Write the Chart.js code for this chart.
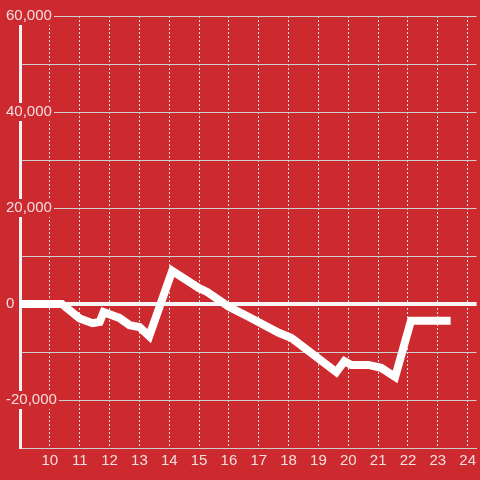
<!DOCTYPE html>
<html>
<head>
<meta charset="utf-8">
<script src="https://cdn.jsdelivr.net/npm/chart.js@4/dist/chart.umd.min.js"></script>
<style>
  html, body { margin: 0; padding: 0; background: #cd2a2f; }
  #wrap { width: 480px; height: 480px; }
</style>
</head>
<body>
<div id="wrap"><canvas id="chart" width="480" height="480"></canvas></div>
<script>
const BG = '#cd2a2f';

// hour of day vs value
const xValues = [8.9, 10.4, 11.0, 11.43, 11.67, 11.8, 12.33, 12.67, 13.0, 13.33, 14.1, 15.0, 15.27, 16.0, 16.67, 17.67, 18.1, 19.6, 19.87, 20.1, 20.67, 21.1, 21.57, 22.1, 23.43];
const yValues = [0, 0, -3000, -4000, -3750, -1700, -2900, -4400, -4800, -6700, 6900, 3300, 2500, -600, -2700, -6000, -7100, -14200, -11900, -12700, -12700, -13300, -15200, -3500, -3500];

const xTicks = [10, 11, 12, 13, 14, 15, 16, 17, 18, 19, 20, 21, 22, 23, 24];
const yLabelTicks = [60000, 40000, 20000, 0, -20000];

const points = xValues.map((x, i) => ({ x: x, y: yValues[i] }));

document.addEventListener('DOMContentLoaded', () => {
    const ctx = document.getElementById('chart').getContext('2d');
    Chart.defaults.font.family = '"Liberation Sans", Arial, sans-serif';
    Chart.defaults.font.size = 15;
    Chart.defaults.color = '#f2dede';

    new Chart(ctx, {
        type: 'line',
        data: {
            datasets: [{
                data: points,
                borderColor: '#ffffff',
                borderWidth: 8,
                pointRadius: 0,
                tension: 0,
                fill: false
            }]
        },
        options: {
            responsive: false,
            animation: false,
            layout: { padding: { top: 16, right: 0, left: 0, bottom: 0 } },
            plugins: { legend: { display: false }, tooltip: { enabled: false } },
            scales: {
                x: {
                    type: 'linear',
                    min: 9,
                    max: 24.3,
                    afterBuildTicks: (scale) => {
                        scale.ticks = xTicks.map(v => ({ value: v }));
                    },
                    afterFit: (scale) => { scale.height = 32; },
                    ticks: { autoSkip: false, maxRotation: 0, padding: 4, includeBounds: false },
                    grid: { color: '#e2e2e2', lineWidth: 1, drawTicks: false },
                    border: { color: '#cccccc', width: 1, dash: [2, 2] }
                },
                y: {
                    min: -30000,
                    max: 60000,
                    afterFit: (scale) => { scale.width = 20; },
                    ticks: {
                        stepSize: 10000,
                        mirror: true,
                        crossAlign: 'near',
                        padding: -14,
                        callback: (v) => yLabelTicks.includes(v) ? v.toLocaleString('en-US') : '',
                        showLabelBackdrop: (c) => yLabelTicks.includes(c.tick.value),
                        backdropColor: BG,
                        backdropPadding: { left: 2, right: 2, top: 0, bottom: 0 }
                    },
                    grid: {
                        drawTicks: false,
                        color: (c) => c.tick && c.tick.value === 0 ? '#f7f7f7' : '#cfcfcf',
                        lineWidth: (c) => c.tick && c.tick.value === 0 ? 4 : 1
                    },
                    border: { color: '#f2f2f2', width: 3 }
                }
            }
        }
    });
});
</script>
</body>
</html>
